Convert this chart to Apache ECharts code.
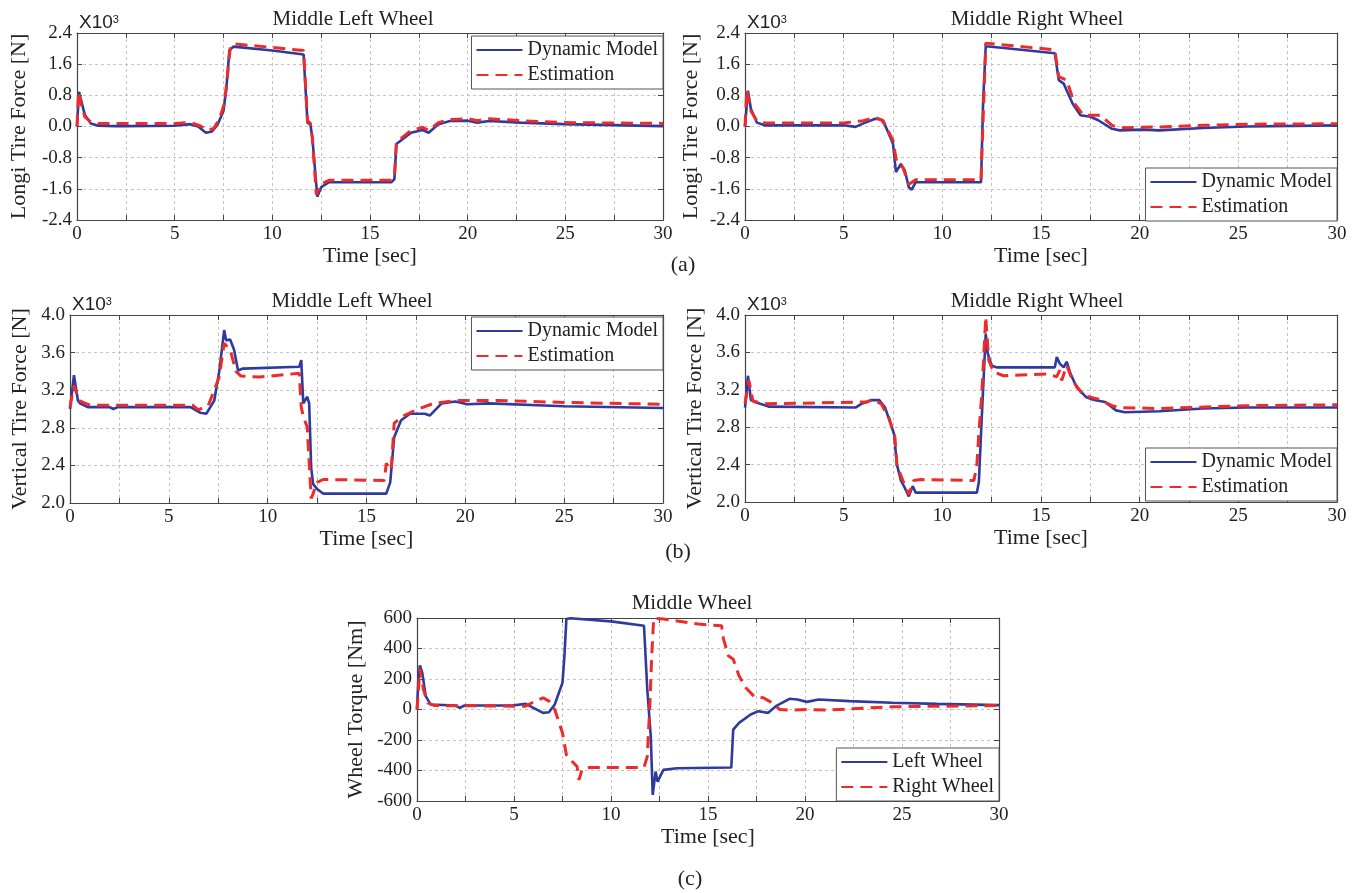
<!DOCTYPE html>
<html>
<head>
<meta charset="utf-8">
<title>Middle wheel forces</title>
<script src="https://cdn.jsdelivr.net/npm/echarts@6/dist/echarts.min.js"></script>
<style>
  html, body { margin: 0; background: #ffffff; }
  #chart { width: 1362px; height: 893px; }
</style>
</head>
<body>
<div id="chart"></div>
<script>
// tick labels
const timeTicks = [0, 5, 10, 15, 20, 25, 30]
const longiTicks = [-2.4, -1.6, -0.8, 0.0, 0.8, 1.6, 2.4]
const vertTicks = [2.0, 2.4, 2.8, 3.2, 3.6, 4.0]
const torqueTicks = [-600, -400, -200, 0, 200, 400, 600]

// (a) longitudinal tire force, middle left wheel [x10^3 N]
const aLeftDynT = [0, 0.1, 0.2, 0.4, 0.7, 1.1, 2.0, 2.1, 2.4, 5.0, 5.8, 6.2, 6.6, 6.9, 7.2, 7.5, 7.65, 7.8, 8.0, 10.0, 11.6, 11.7, 11.8, 11.95, 12.05, 12.3, 12.5, 12.9, 16.1, 16.25, 16.35, 17.1, 17.7, 18.0, 18.5, 19.1, 20.0, 20.5, 21.1, 22.7, 24.9, 30]
const aLeftDynV = [0.0, 0.89, 0.7, 0.3, 0.08, 0.02, 0.01, -0.03, 0.01, 0.02, 0.06, 0.0, -0.16, -0.13, 0.05, 0.4, 1.0, 1.95, 2.05, 1.95, 1.85, 1.85, 0.1, 0.05, -0.3, -1.8, -1.56, -1.43, -1.43, -1.35, -0.45, -0.16, -0.09, -0.16, 0.06, 0.14, 0.15, 0.1, 0.14, 0.1, 0.06, 0.01]
const aLeftEstT = [0, 0.08, 0.2, 0.4, 0.7, 1.1, 5.0, 5.8, 6.3, 6.7, 7.0, 7.3, 7.55, 7.7, 7.85, 8.0, 10.0, 11.6, 11.7, 11.8, 11.95, 12.05, 12.25, 12.5, 12.9, 16.1, 16.25, 16.35, 17.1, 17.7, 18.0, 18.5, 19.1, 20.0, 20.5, 21.1, 22.7, 24.9, 30]
const aLeftEstV = [0.0, 0.9, 0.6, 0.25, 0.12, 0.08, 0.08, 0.1, 0.02, -0.1, -0.05, 0.2, 0.6, 1.3, 2.05, 2.12, 2.03, 1.95, 1.95, 0.15, 0.08, -0.3, -1.75, -1.48, -1.38, -1.38, -1.3, -0.4, -0.1, -0.02, -0.1, 0.1, 0.18, 0.2, 0.15, 0.2, 0.15, 0.1, 0.08]

// (a) longitudinal tire force, middle right wheel [x10^3 N]
const aRightDynT = [0, 0.15, 0.3, 0.6, 1.0, 5.0, 5.6, 6.0, 6.6, 6.9, 7.1, 7.5, 7.65, 7.9, 8.1, 8.3, 8.45, 8.65, 11.96, 12.07, 12.2, 13.0, 15.7, 15.9, 16.15, 16.6, 17.0, 17.5, 17.9, 18.6, 19.0, 20.1, 21.0, 23.2, 25.4, 30]
const aRightDynV = [0.0, 0.92, 0.45, 0.1, 0.03, 0.03, -0.01, 0.08, 0.2, 0.18, 0.03, -0.44, -1.17, -0.96, -1.13, -1.56, -1.62, -1.43, -1.43, 0.68, 2.06, 2.02, 1.88, 1.19, 1.1, 0.59, 0.29, 0.25, 0.16, -0.06, -0.1, -0.08, -0.1, -0.04, 0.0, 0.03]
const aRightEstT = [0, 0.09, 0.3, 0.6, 1.0, 5.0, 6.0, 6.6, 7.0, 7.5, 7.7, 8.0, 8.3, 8.65, 11.96, 12.2, 13.0, 15.7, 15.9, 16.3, 16.7, 17.15, 18.0, 18.6, 19.0, 21.0, 23.2, 25.4, 30]
const aRightEstV = [0.0, 0.94, 0.4, 0.15, 0.09, 0.09, 0.15, 0.23, 0.15, -0.36, -0.96, -1.05, -1.48, -1.37, -1.37, 2.14, 2.1, 1.97, 1.28, 1.19, 0.59, 0.29, 0.29, 0.03, -0.03, -0.01, 0.03, 0.06, 0.07]

// (b) vertical tire force, middle left wheel [x10^3 N]
const bLeftDynT = [0, 0.2, 0.4, 0.5, 0.9, 2.0, 2.2, 2.4, 6.1, 6.6, 6.9, 7.3, 7.55, 7.8, 7.9, 8.1, 8.3, 8.5, 8.75, 11.6, 11.7, 11.8, 12.0, 12.1, 12.2, 12.3, 12.5, 12.8, 16.0, 16.2, 16.4, 16.75, 17.2, 17.95, 18.2, 18.8, 19.5, 20.1, 21.2, 25.0, 30]
const bLeftDynV = [3.0, 3.36, 3.09, 3.06, 3.02, 3.02, 3.0, 3.02, 3.02, 2.96, 2.95, 3.09, 3.4, 3.84, 3.73, 3.74, 3.63, 3.41, 3.43, 3.45, 3.52, 3.06, 3.13, 3.06, 2.38, 2.2, 2.15, 2.1, 2.1, 2.22, 2.7, 2.88, 2.95, 2.95, 2.93, 3.06, 3.08, 3.05, 3.06, 3.03, 3.01]
const bLeftEstT = [0, 0.2, 0.45, 1.0, 6.2, 6.5, 7.0, 7.55, 7.8, 8.1, 8.4, 8.65, 9.6, 11.6, 11.7, 11.8, 12.0, 12.2, 12.3, 12.5, 12.8, 15.9, 16.0, 16.25, 16.4, 16.9, 17.5, 18.4, 19.5, 21.7, 25.0, 30]
const bLeftEstV = [3.02, 3.25, 3.09, 3.04, 3.04, 2.99, 3.04, 3.34, 3.7, 3.63, 3.4, 3.35, 3.34, 3.38, 3.02, 2.92, 2.81, 2.05, 2.1, 2.22, 2.25, 2.24, 2.42, 2.35, 2.85, 2.93, 2.99, 3.06, 3.09, 3.09, 3.07, 3.05]

// (b) vertical tire force, middle right wheel [x10^3 N]
const bRightDynT = [0, 0.15, 0.3, 0.5, 1.2, 5.6, 5.9, 6.45, 6.8, 7.1, 7.55, 7.7, 7.9, 8.1, 8.3, 8.5, 8.65, 11.75, 11.85, 12.0, 12.2, 12.3, 12.5, 12.75, 15.7, 15.8, 15.95, 16.15, 16.3, 16.5, 16.8, 17.3, 17.7, 18.25, 18.8, 19.25, 21.0, 23.2, 25.4, 30]
const bRightDynV = [3.01, 3.35, 3.09, 3.07, 3.02, 3.01, 3.05, 3.09, 3.09, 3.01, 2.73, 2.4, 2.23, 2.15, 2.06, 2.17, 2.1, 2.1, 2.21, 2.91, 3.8, 3.59, 3.46, 3.44, 3.44, 3.55, 3.48, 3.44, 3.5, 3.37, 3.23, 3.12, 3.09, 3.07, 2.98, 2.96, 2.97, 3.0, 3.01, 3.01]
const bRightEstT = [0, 0.2, 0.4, 1.0, 6.2, 6.45, 6.9, 7.3, 7.6, 7.7, 8.0, 8.3, 8.55, 8.9, 11.6, 11.75, 11.85, 12.0, 12.2, 12.35, 12.6, 13.1, 15.3, 15.8, 15.95, 16.05, 16.3, 16.6, 17.15, 17.9, 18.6, 19.0, 21.0, 25.4, 30]
const bRightEstV = [3.05, 3.3, 3.08, 3.05, 3.07, 3.1, 3.05, 2.9, 2.69, 2.39, 2.23, 2.08, 2.23, 2.24, 2.23, 2.4, 2.73, 3.16, 3.98, 3.52, 3.39, 3.35, 3.37, 3.34, 3.41, 3.3, 3.46, 3.3, 3.14, 3.1, 3.03, 3.01, 3.0, 3.03, 3.04]

// (c) wheel torque, middle wheel [Nm]
const cLeftT = [0, 0.07, 0.15, 0.27, 0.45, 0.7, 2.0, 2.2, 2.45, 4.9, 5.6, 6.0, 6.5, 6.8, 7.1, 7.5, 7.6, 7.7, 7.9, 10.0, 11.7, 11.87, 12.05, 12.15, 12.3, 12.4, 12.7, 13.4, 16.2, 16.3, 16.6, 17.2, 17.6, 18.1, 18.5, 19.2, 19.6, 20.1, 20.7, 22.3, 24.5, 26.8, 30]
const cLeftV = [0, 198, 290, 242, 88, 33, 26, 11, 26, 26, 37, 11, -22, -18, 33, 176, 352, 593, 598, 578, 549, 132, -176, -560, -407, -473, -396, -385, -380, -132, -88, -33, -11, -22, 22, 70, 66, 50, 66, 55, 44, 37, 29]
const cRightT = [0, 0.15, 0.33, 0.55, 0.9, 4.9, 5.6, 6.1, 6.5, 6.8, 7.1, 7.5, 7.7, 8.0, 8.25, 8.35, 8.5, 8.9, 11.7, 11.87, 12.0, 12.1, 12.2, 12.7, 14.5, 15.7, 15.8, 16.05, 16.3, 16.6, 16.95, 17.4, 17.85, 18.3, 18.7, 19.2, 20.1, 21.2, 22.3, 24.5, 30]
const cRightV = [0, 268, 132, 44, 26, 22, 22, 55, 77, 55, 0, -154, -297, -341, -374, -462, -396, -380, -380, -308, 22, 352, 598, 593, 560, 549, 462, 352, 330, 220, 143, 83, 77, 44, 0, -4, 0, -4, 4, 18, 26]

const serif = 'Liberation Serif'
const ink = '#222'
const blue = '#2f3a9e'
const red = '#ee2b2b'

const pairs = (t, v) => t.map((x, i) => [x, v[i]])

// plot boxes, in pixels of the 1362 x 893 page
const boxes = [
  { left: 77, top: 33, width: 586, height: 187 },
  { left: 745, top: 33, width: 592, height: 187 },
  { left: 70, top: 315, width: 593, height: 188 },
  { left: 745, top: 315, width: 592, height: 187 },
  { left: 417, top: 618, width: 582, height: 183 }
]

const panels = [
  { ticks: longiTicks, name: 'Longi Tire Force [N]', nameGap: 47, dec: 1 },
  { ticks: longiTicks, name: 'Longi Tire Force [N]', nameGap: 43, dec: 1 },
  { ticks: vertTicks, name: 'Vertical Tire Force [N]', nameGap: 39, dec: 1 },
  { ticks: vertTicks, name: 'Vertical Tire Force [N]', nameGap: 39, dec: 1 },
  { ticks: torqueTicks, name: 'Wheel Torque [Nm]', nameGap: 50, dec: 0 }
]
const xNameGaps = [20, 20, 19, 19, 24]

const frame = { onZero: false, lineStyle: { color: '#444', width: 1.2 } }
const tickIn = { inside: true, length: 5, lineStyle: { color: '#444' } }
const gridLine = { show: true, lineStyle: { color: '#c4c4c4', type: [3, 3], width: 1 } }
const labelFont = { fontFamily: serif, fontSize: 19, color: ink }

let xAxis = []
let yAxis = []
panels.forEach((p, g) => {
  const tmin = timeTicks[0]
  const tmax = timeTicks[timeTicks.length - 1]
  const ymin = p.ticks[0]
  const ymax = p.ticks[p.ticks.length - 1]
  const yint = p.ticks[1] - p.ticks[0]
  xAxis.push({
    gridIndex: g, type: 'value', min: tmin, max: tmax, interval: 2.5,
    name: 'Time [sec]', nameLocation: 'middle', nameGap: xNameGaps[g],
    nameTextStyle: { fontFamily: serif, fontSize: 22, color: ink },
    axisLine: frame, axisTick: tickIn, splitLine: gridLine,
    axisLabel: Object.assign({
      margin: 5,
      formatter: v => (timeTicks.indexOf(v) >= 0 ? String(v) : '')
    }, labelFont)
  })
  xAxis.push({
    gridIndex: g, type: 'value', position: 'top', min: tmin, max: tmax, interval: 2.5,
    axisLine: frame, axisTick: tickIn, splitLine: { show: false }, axisLabel: { show: false }
  })
  yAxis.push({
    gridIndex: g, type: 'value', min: ymin, max: ymax, interval: yint,
    name: p.name, nameLocation: 'middle', nameGap: p.nameGap,
    nameTextStyle: { fontFamily: serif, fontSize: 22, color: ink },
    axisLine: frame, axisTick: tickIn, splitLine: gridLine,
    axisLabel: Object.assign({
      margin: 5,
      formatter: v => (Math.abs(v) < 1e-9 ? 0 : v).toFixed(p.dec)
    }, labelFont)
  })
  yAxis.push({
    gridIndex: g, type: 'value', position: 'right', min: ymin, max: ymax, interval: yint,
    axisLine: frame, axisTick: tickIn, splitLine: { show: false }, axisLabel: { show: false }
  })
})

const line = (name, g, t, v, dashed) => ({
  name: name, type: 'line', xAxisIndex: g * 2, yAxisIndex: g * 2,
  data: pairs(t, v), symbol: 'none', animation: false,
  lineStyle: dashed ? { color: red, width: 3, type: [12, 7] } : { color: blue, width: 2.6 },
  itemStyle: { color: dashed ? red : blue }
})

const series = [
  line('Dynamic Model', 0, aLeftDynT, aLeftDynV, false),
  line('Estimation', 0, aLeftEstT, aLeftEstV, true),
  line('Dynamic Model', 1, aRightDynT, aRightDynV, false),
  line('Estimation', 1, aRightEstT, aRightEstV, true),
  line('Dynamic Model', 2, bLeftDynT, bLeftDynV, false),
  line('Estimation', 2, bLeftEstT, bLeftEstV, true),
  line('Dynamic Model', 3, bRightDynT, bRightDynV, false),
  line('Estimation', 3, bRightEstT, bRightEstV, true),
  line('Left Wheel', 4, cLeftT, cLeftV, false),
  line('Right Wheel', 4, cRightT, cRightV, true)
]

const legendBox = (names, right, top) => ({
  data: names, orient: 'vertical', right: right, top: top,
  backgroundColor: '#fff', borderColor: '#555', borderWidth: 1, borderRadius: 0,
  padding: [3, 5, 3, 4], itemGap: 3, itemWidth: 46, itemHeight: 14,
  selectedMode: false,
  itemStyle: { opacity: 0 },
  textStyle: { fontFamily: serif, fontSize: 20, color: ink, lineHeight: 22, padding: [0, 0, 0, 0] }
})
const dm = ['Dynamic Model', 'Estimation']
const legend = [
  legendBox(dm, 1362 - 663, 36),
  legendBox(dm, 1362 - 1337, 168),
  legendBox(dm, 1362 - 663, 317),
  legendBox(dm, 1362 - 1337, 448),
  legendBox(['Left Wheel', 'Right Wheel'], 1362 - 999, 748)
]

const caption = (text, x, y, size) => ({
  text: text, left: x, top: y, textAlign: 'center', padding: 0,
  textStyle: { fontFamily: serif, fontSize: size, fontWeight: 'normal', color: ink }
})
const power = (x, y) => ({
  text: '{a|X10}{b|3}', left: x, top: y, padding: 0,
  textStyle: {
    fontWeight: 'normal',
    rich: {
      a: { fontFamily: 'Liberation Sans', fontSize: 19, fontWeight: 'normal', color: ink, lineHeight: 18, verticalAlign: 'bottom' },
      b: { fontFamily: 'Liberation Sans', fontSize: 11, fontWeight: 'normal', color: ink, lineHeight: 18, verticalAlign: 'top', padding: [0, 0, 12, 0] }
    }
  }
})
const title = [
  caption('Middle Left Wheel', 353, 9, 21),
  caption('Middle Right Wheel', 1037, 9, 21),
  caption('Middle Left Wheel', 352, 291, 21),
  caption('Middle Right Wheel', 1037, 291, 21),
  caption('Middle Wheel', 692, 593, 21),
  caption('(a)', 683, 254, 22),
  caption('(b)', 678, 541, 22),
  caption('(c)', 690, 868, 22),
  power(79, 14),
  power(747, 14),
  power(72, 296),
  power(747, 296)
]

const chart = echarts.init(document.getElementById('chart'), null, { renderer: 'canvas' })
chart.setOption({
  backgroundColor: '#ffffff',
  animation: false,
  textStyle: { fontFamily: serif },
  title: title,
  legend: legend,
  grid: boxes.map(b => Object.assign({ containLabel: false }, b)),
  xAxis: xAxis,
  yAxis: yAxis,
  series: series
})
</script>
</body>
</html>
